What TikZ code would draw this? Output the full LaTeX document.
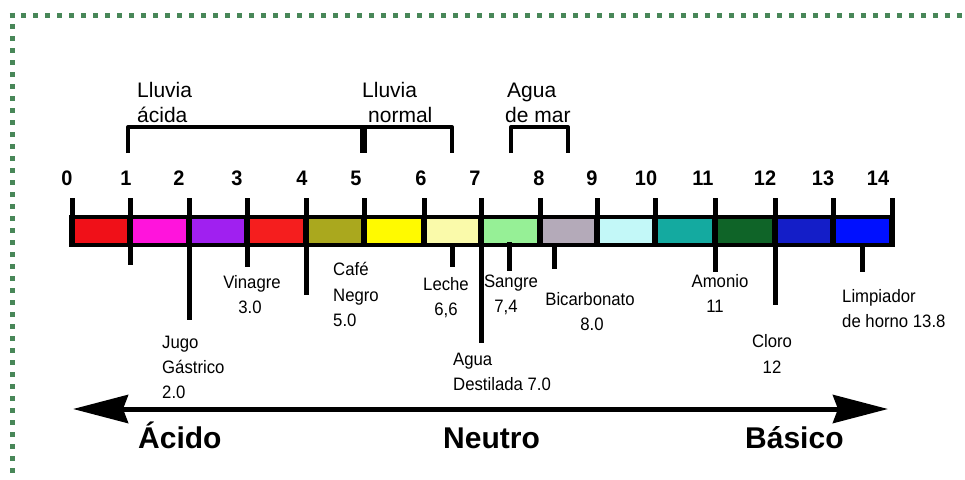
\documentclass[tikz,border=0pt]{standalone}
\usepackage{fontspec}
\setmainfont{Liberation Sans}
\newfontfamily\labfont[FakeStretch=0.93]{Liberation Sans}
\newfontfamily\numfont[FakeStretch=0.95]{Liberation Sans}
\usetikzlibrary{arrows.meta}

% frame and scale colours
\definecolor{framegreen}{RGB}{72,135,88}
\definecolor{ph0}{RGB}{240,16,24}
\definecolor{ph1}{RGB}{255,20,220}
\definecolor{ph2}{RGB}{160,32,240}
\definecolor{ph3}{RGB}{245,30,30}
\definecolor{ph4}{RGB}{170,168,30}
\definecolor{ph5}{RGB}{255,250,0}
\definecolor{ph6}{RGB}{250,250,170}
\definecolor{ph7}{RGB}{150,240,150}
\definecolor{ph8}{RGB}{180,170,185}
\definecolor{ph9}{RGB}{195,248,248}
\definecolor{ph10}{RGB}{20,170,160}
\definecolor{ph11}{RGB}{15,100,40}
\definecolor{ph12}{RGB}{20,30,200}
\definecolor{ph13}{RGB}{0,16,255}

\tikzset{
  frame/.style={framegreen, line width=5pt, dash pattern=on 5pt off 6.99pt},
  tickline/.style={line width=5pt},
  brace/.style={line width=4pt, line join=round},
  phnum/.style={inner sep=0pt, anchor=base, font=\numfont\bfseries\fontsize{21}{21}\selectfont},
  lab/.style={inner sep=0pt, font=\labfont\fontsize{18}{18}\selectfont},
  rain/.style={inner sep=0pt, anchor=base west, font=\fontsize{21}{21}\selectfont},
  side/.style={inner sep=0pt, anchor=base west, font=\bfseries\fontsize{30}{30}\selectfont},
  bigarrow/.style={line width=5pt, {Stealth[length=55pt,width=28pt,inset=5pt]}-{Stealth[length=55pt,width=28pt,inset=5pt]}}
}

\begin{document}
\begin{tikzpicture}[x=1pt,y=-1pt]
\useasboundingbox (0,0) rectangle (965,479);

% dotted border (top and left)
\draw[frame] (9.5,15) -- (965,15);
\draw[frame] (12,12.5) -- (12,479);

% scale bar: black body with coloured cells
\fill (69,215) rectangle (895,247);
\foreach \a/\b/\c in {72/130/ph0,130/189/ph1,189/247/ph2,247/306/ph3,306/364/ph4,
  364/424/ph5,424/481/ph6,481/540/ph7,540/597/ph8,597/655/ph9,655/715/ph10,
  715/775/ph11,775/833/ph12,833/892/ph13}
  \fill[\c] (\a+3,219) rectangle (\b-3,243);

% tick marks above the bar and pH numbers
\foreach \x [count=\i from 0] in {72,130,189,247,306,364,424,481,540,597,655,715,775,833,892}{
  \coordinate (t\i) at (\x,198);
  \draw[tickline] (t\i) -- (\x,215);
}
\foreach \n/\x in {0/67,1/126,2/179,3/237,4/302,5/356,6/421,7/475,8/539,9/592,
  10/646,11/703,12/765,13/823,14/878}
  \node[phnum] (n\n) at (\x,185) {\n};

% markers below the bar
\foreach \x/\y [count=\i] in {130/265,189/320,247/267,306/295,452/267,481/343,
  554/269,715/272,775/305,862/272}{
  \coordinate (m\i) at (\x,\y);
  \draw[tickline] (\x,247) -- (m\i);
}
\coordinate (sangreTop) at (509,242);
\coordinate (sangreEnd) at (509,271);
\draw[tickline] (sangreTop) -- (sangreEnd);

% rain and sea water ranges
\coordinate (ba) at (128,153);
\coordinate (bb) at (452,153);
\coordinate (bm) at (363,153);
\draw[brace] (ba) -- (128,127) -- (452,127) -- (bb);
\draw[line width=7pt] (363,127) -- (bm);
\coordinate (sa) at (511,153);
\coordinate (sb) at (568,153);
\draw[brace] (sa) -- (511,127) -- (568,127) -- (sb);

\node[rain] (lla1) at (137,97) {Lluvia};
\node[rain] (lla2) at (137,122) {ácida};
\node[rain] (lln1) at (362,97) {Lluvia};
\node[rain] (lln2) at (368,122) {normal};
\node[rain] (mar1) at (507,97) {Agua};
\node[rain] (mar2) at (505,122) {de mar};

% substances
\node[lab, anchor=base west] (jugo1) at (162,348) {Jugo};
\node[lab, anchor=base west] (jugo2) at (162,373) {Gástrico};
\node[lab, anchor=base west] (jugo3) at (162,398) {2.0};
\node[lab, anchor=base] (vin1) at (252,288) {Vinagre};
\node[lab, anchor=base] (vin2) at (250,313) {3.0};
\node[lab, anchor=base west] (cafe1) at (333,275) {Café};
\node[lab, anchor=base west] (cafe2) at (333,301) {Negro};
\node[lab, anchor=base west] (cafe3) at (333,326) {5.0};
\node[lab, anchor=base] (lec1) at (446,290) {Leche};
\node[lab, anchor=base] (lec2) at (446,315) {6,6};
\node[lab, anchor=base west] (agua1) at (453,365) {Agua};
\node[lab, anchor=base west] (agua2) at (453,390) {Destilada 7.0};
\node[lab, anchor=base] (san1) at (511,287) {Sangre};
\node[lab, anchor=base] (san2) at (506,312) {7,4};
\node[lab, anchor=base] (bic1) at (590,305) {Bicarbonato};
\node[lab, anchor=base] (bic2) at (592,330) {8.0};
\node[lab, anchor=base] (amo1) at (720,287) {Amonio};
\node[lab, anchor=base] (amo2) at (715,312) {11};
\node[lab, anchor=base] (clo1) at (772,347) {Cloro};
\node[lab, anchor=base] (clo2) at (772,373) {12};
\node[lab, anchor=base west] (lim1) at (842,302) {Limpiador};
\node[lab, anchor=base west] (lim2) at (842,327) {de horno 13.8};

% acid / base direction arrow
\coordinate (aL) at (73,409);
\coordinate (aR) at (888,409);
\draw[bigarrow] (aL) -- (aR);
\node[side] (acido) at (138,448) {Ácido};
\node[side] (neutro) at (443,448) {Neutro};
\node[side] (basico) at (745,448) {Básico};
\end{tikzpicture}
\end{document}
